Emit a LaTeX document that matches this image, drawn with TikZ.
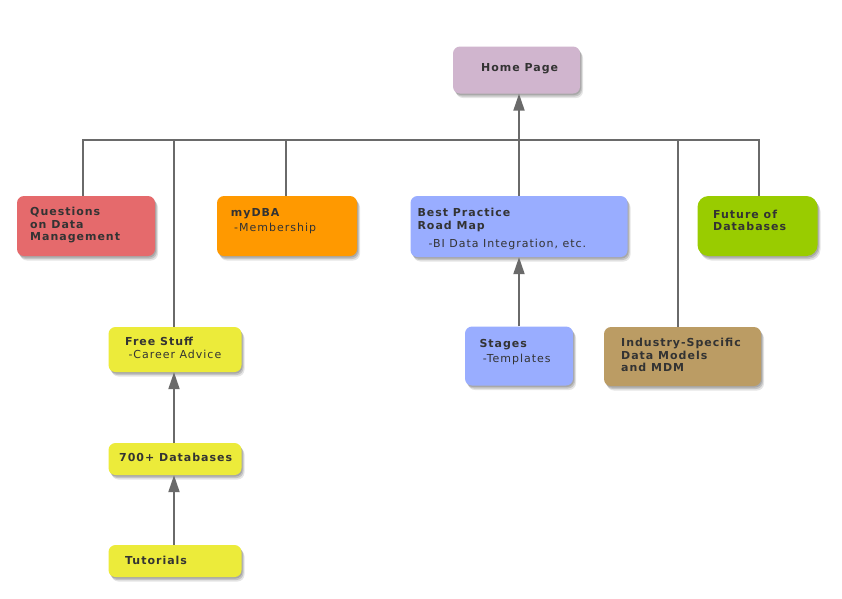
\documentclass[tikz,border=0pt]{standalone}
\usepackage{fontspec}
\setmainfont{DejaVu Sans}
\usetikzlibrary{arrows.meta,shadows}

\definecolor{homec}{RGB}{208,181,206}
\definecolor{questc}{RGB}{229,106,108}
\definecolor{dbac}{RGB}{255,153,0}
\definecolor{bluec}{RGB}{153,173,255}
\definecolor{greenc}{RGB}{153,204,0}
\definecolor{yelc}{RGB}{236,235,58}
\definecolor{tanc}{RGB}{187,156,100}
\definecolor{linec}{RGB}{106,106,106}

\newcommand{\hdfont}{\fontsize{11}{12.5}\selectfont\bfseries\addfontfeature{LetterSpace=9}}
\newcommand{\subfont}{\fontsize{11}{12.5}\selectfont\addfontfeature{LetterSpace=9}}

\tikzset{
    box/.style={rounded corners=7pt, inner sep=0pt,
        drop shadow={shadow xshift=3pt, shadow yshift=-4.5pt, opacity=0.10, fill=black},
        drop shadow={shadow xshift=2pt, shadow yshift=-3pt, opacity=0.14, fill=black},
        drop shadow={shadow xshift=1pt, shadow yshift=-1.5pt, opacity=0.14, fill=black}},
    txt/.style={anchor=north west, inner sep=0pt, align=left, font=\hdfont,
        text=black!80, execute at begin node={\strut}},
    sub/.style={txt, font=\subfont},
    conn/.style={line width=2pt, draw=linec},
    arr/.style={conn, -{Triangle[length=17pt,width=11pt]}}
}

\begin{document}
\begin{tikzpicture}[x=1pt, y=-1pt]
    \useasboundingbox[fill=white] (0,0) rectangle (842,598);

    % --- TOP ---
    \node[box, fill=homec, minimum width=127pt, minimum height=47pt] (home) at (516.5,70) {};
    \node[txt] (homet) at (481,62.25) {Home Page};

    % --- SECOND ROW ---
    \node[box, fill=questc, minimum width=138pt, minimum height=60pt] (quest) at (86,226) {};
    \node[txt] (questt) at (30,207) {Questions\\on Data\\Management};

    \node[box, fill=dbac, minimum width=140pt, minimum height=60pt] (mydba) at (287,226) {};
    \node[txt] (mydbat) at (230.7,208) {myDBA};
    \node[sub] (mydbas) at (234,222.25) {-Membership};

    \node[box, fill=bluec, minimum width=217pt, minimum height=61pt] (bestpr) at (519,226.5) {};
    \node[txt] (bestprt) at (417.3,208.25) {Best Practice\\Road Map};
    \node[sub] (bestprs) at (428.3,239) {-BI Data Integration, etc.};

    \node[box, fill=greenc, rounded corners=11pt, minimum width=120pt, minimum height=60pt] (future) at (757.5,226) {};
    \node[txt] (futuret) at (713,209.5) {Future of\\Databases};

    % --- LOWER BOXES ---
    \node[box, fill=yelc, minimum width=133pt, minimum height=45pt] (freest) at (175,349.5) {};
    \node[txt] (freestt) at (125,336.25) {Free Stuff};
    \node[sub] (freests) at (128.3,350) {-Career Advice};

    \node[box, fill=yelc, minimum width=133pt, minimum height=32pt] (dbs) at (175,459) {};
    \node[txt] (dbst) at (119,453) {700+ Databases};

    \node[box, fill=yelc, minimum width=133pt, minimum height=32pt] (tutor) at (175,561) {};
    \node[txt] (tutort) at (125,555.5) {Tutorials};

    \node[box, fill=bluec, minimum width=108pt, minimum height=59pt] (stages) at (519,356) {};
    \node[txt] (stagest) at (479.3,339) {Stages};
    \node[sub] (stagess) at (482.7,354) {-Templates};

    \node[box, fill=tanc, minimum width=157pt, minimum height=59pt] (indus) at (682.5,356.5) {};
    \node[txt] (indust) at (621,338) {Industry-Specific\\Data Models\\and MDM};

    % --- CONNECTORS ---
    \coordinate (bus) at (0,139.5);
    \draw[conn] ([xshift=-3pt]quest.north) -- ([xshift=-3pt]quest.north |- bus)
        -- ([xshift=1.5pt]future.north |- bus) -- ([xshift=1.5pt]future.north);
    \draw[conn] ([xshift=-1pt]freest.north) -- ([xshift=-1pt]freest.north |- bus);
    \draw[conn] ([xshift=-1pt]mydba.north) -- ([xshift=-1pt]mydba.north |- bus);
    \draw[conn] ([xshift=-4.5pt]indus.north) -- ([xshift=-4.5pt]indus.north |- bus);
    \draw[arr] (bestpr.north) -- (bestpr.north |- home.south);
    \draw[arr] (stages.north) -- (bestpr.south);
    \draw[arr] ([xshift=-1pt]dbs.north) -- ([xshift=-1pt]freest.south);
    \draw[arr] ([xshift=-1pt]tutor.north) -- ([xshift=-1pt]dbs.south);
\end{tikzpicture}
\end{document}
